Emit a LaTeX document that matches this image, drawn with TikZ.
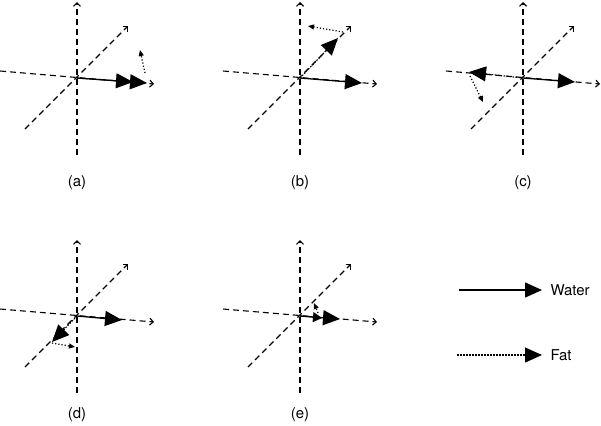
\documentclass[tikz,border=0pt]{standalone}
\usepackage{fontspec}
\setmainfont{TeX Gyre Heros}
\usetikzlibrary{arrows.meta}
\tikzset{
  every node/.style={font=\fontsize{15}{18}\selectfont},
  axis/.style={dash pattern=on 6bp off 4bp, line width=1.1bp, -{Straight Barb[length=3.5bp,width=7bp]}},
  water/.style={line width=1.3bp, -{Triangle[length=17bp,width=15bp]}},
  fat/.style={dash pattern=on 1.6bp off 1.4bp, line width=1.1bp, -{Triangle[length=17bp,width=15bp]}},
  smallfat/.style={fat, -{Triangle[length=9bp,width=10bp]}},
  turn/.style={dotted, line width=1.2bp, -{Triangle[length=6bp,width=5bp]}},
}
\begin{document}
\begin{tikzpicture}[x=1bp, y=-1bp]
  \useasboundingbox (0,0) rectangle (601,425);

  % Three dashed axes and the caption of each panel
  \foreach \p/\ox/\oy/\ly in {a/77/78/105, b/300/78/105, c/523/78/105, d/77/316/99, e/300/316/99} {
    \begin{scope}[shift={(\ox,\oy)}]
      \coordinate (\p-o) at (0,0);
      \coordinate (\p-down) at (0,77);    \coordinate (\p-up) at (0,-76);
      \coordinate (\p-left) at (-77,-7);  \coordinate (\p-right) at (77,6);
      \coordinate (\p-back) at (-52,51);  \coordinate (\p-front) at (51,-52);
      \draw[axis] (\p-down) -- (\p-up);
      \draw[axis] (\p-left) -- (\p-right);
      \draw[axis] (\p-back) -- (\p-front);
      \node (\p-label) at (0,\ly) {(\p)};
    \end{scope}
  }

  % (a) in phase
  \begin{scope}[shift={(77,78)}]
    \coordinate (a-fat) at (56,4);    \coordinate (a-water) at (70,5);
    \coordinate (a-from) at (68,-5);  \coordinate (a-to) at (63,-28);
  \end{scope}
  \draw[fat] (a-o) -- (a-fat);
  \draw[water] (a-o) -- (a-water);
  \draw[turn] (a-from) -- (a-to);

  % (b) fat turned a quarter
  \begin{scope}[shift={(300,78)}]
    \coordinate (b-fat) at (38,-40);  \coordinate (b-water) at (62,5);
    \coordinate (b-from) at (43,-46); \coordinate (b-to) at (8,-52);
  \end{scope}
  \draw[fat] (b-o) -- (b-fat);
  \draw[water] (b-o) -- (b-water);
  \draw[turn] (b-from) -- (b-to);

  % (c) opposed
  \begin{scope}[shift={(523,78)}]
    \coordinate (c-fat) at (-54,-6);  \coordinate (c-water) at (52,4);
    \coordinate (c-from) at (-53,-2); \coordinate (c-to) at (-40,24);
  \end{scope}
  \draw[fat] (c-o) -- (c-fat);
  \draw[water] (c-o) -- (c-water);
  \draw[turn] (c-from) -- (c-to);

  % (d) three quarters
  \begin{scope}[shift={(77,316)}]
    \coordinate (d-fat) at (-25,26);  \coordinate (d-water) at (45,4);
    \coordinate (d-from) at (-25,27); \coordinate (d-to) at (-2,31);
  \end{scope}
  \draw[fat] (d-o) -- (d-fat);
  \draw[water] (d-o) -- (d-water);
  \draw[turn] (d-from) -- (d-to);

  % (e) back in phase
  \begin{scope}[shift={(300,316)}]
    \coordinate (e-fat) at (22,2);    \coordinate (e-water) at (40,3);
    \coordinate (e-from) at (18,-3);  \coordinate (e-to) at (14,-13);
  \end{scope}
  \draw[smallfat] (e-o) -- (e-fat);
  \draw[water] (e-o) -- (e-water);
  \draw[turn] (e-from) -- (e-to);

  % Key
  \coordinate (water-start) at (459,290);  \coordinate (water-end) at (542,290);
  \coordinate (fat-start) at (457,355);    \coordinate (fat-end) at (542,355);
  \draw[water] (water-start) -- (water-end);
  \draw[fat] (fat-start) -- (fat-end);
  \node[anchor=west] (water-key) at (547,290) {Water};
  \node[anchor=west] (fat-key) at (547,355) {Fat};
\end{tikzpicture}
\end{document}
